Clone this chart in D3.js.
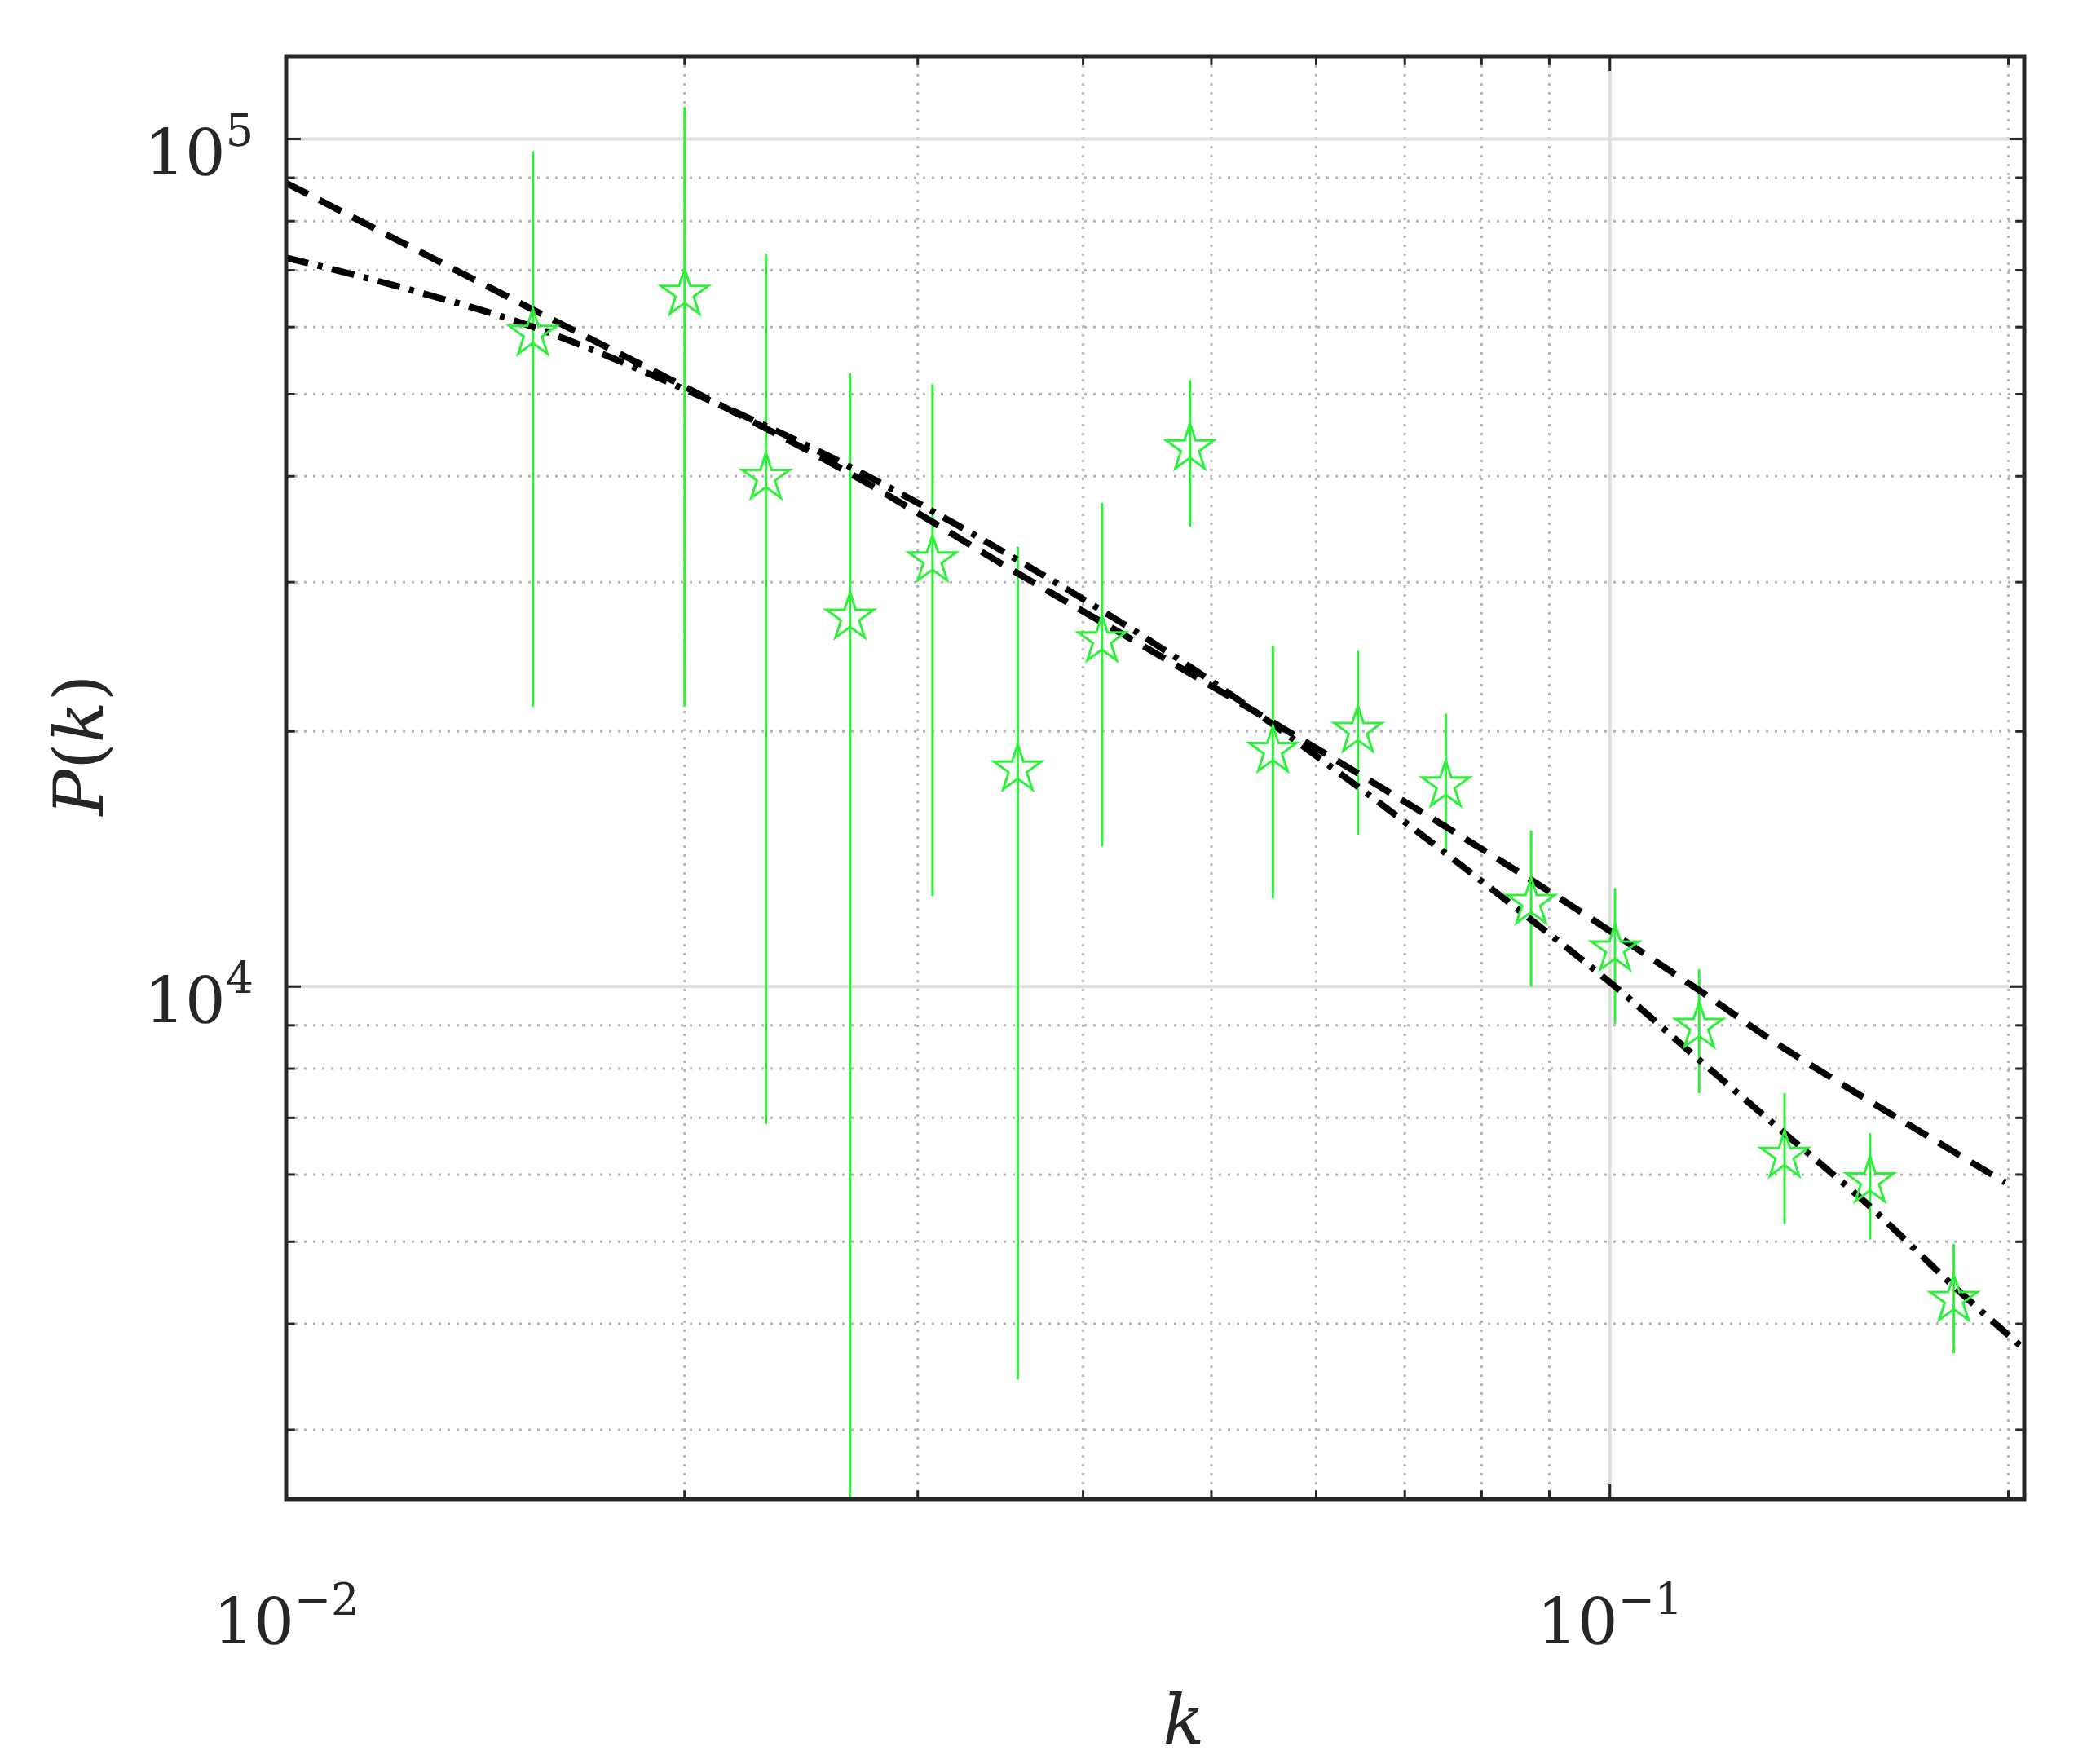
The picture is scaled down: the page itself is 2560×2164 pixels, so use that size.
<!DOCTYPE html>
<html>
<head>
<meta charset="utf-8">
<script src="https://cdn.jsdelivr.net/npm/d3@7"></script>
<style>
  body { margin: 0; background: white; }
  text { font-family: "DejaVu Serif", "Liberation Serif", serif; fill: #262626; }
</style>
</head>
<body>
<script>
var W = 2560, H = 2164;
var margin = {left: 351, top: 69, right: 77, bottom: 325};
var plotW = W - margin.left - margin.right;
var plotH = H - margin.top - margin.bottom;

// measured points
var kData = [0.01536, 0.0200, 0.02304, 0.02667, 0.03078, 0.0357, 0.04133, 0.04817, 0.05564,
             0.06451, 0.07516, 0.0872, 0.1009, 0.1168, 0.1355, 0.1572, 0.1819];
var pData = [58940, 65700, 39860, 27260, 31850, 18050, 25630, 43170, 18980,
             20040, 17280, 12560, 11070, 8970, 6316, 5895, 4271];
var pHigh = [96800, 109100, 73260, 52890, 51360, 33040, 37230, 51920, 25260,
             24900, 21000, 15280, 13070, 10480, 7485, 6714, 4971];
var pLow = [21390, 21390, 6887, 1500, 12790, 3437, 14630, 34880, 12700,
            15110, 14370, 10000, 9040, 7485, 5250, 5027, 3694];

// model curves
var kDash = [0.01, 0.01536, 0.0200, 0.02667, 0.0357, 0.04817, 0.06451, 0.0872, 0.1168, 0.1355, 0.1989];
var pDash = [88740, 62900, 51010, 40300, 30730, 23420, 17850, 13360, 9900, 8450, 5874];
var kDashDot = [0.01, 0.01218, 0.01536, 0.0200, 0.02667, 0.0357, 0.04817, 0.06451, 0.0872, 0.1009,
                0.1168, 0.1355, 0.1572, 0.1819, 0.2056];
var pDashDot = [72450, 66910, 60030, 50650, 41030, 31850, 23840, 17210, 11990, 10000,
                8194, 6714, 5502, 4428, 3735];

var xTicks = [0.01, 0.1];
var xTickExp = ["\u22122", "\u22121"];
var yTicks = [1e4, 1e5];
var yTickExp = ["4", "5"];

var xMinor = [0.02, 0.03, 0.04, 0.05, 0.06, 0.07, 0.08, 0.09, 0.2];
var yMinor = [3000, 4000, 5000, 6000, 7000, 8000, 9000, 20000, 30000, 40000, 50000, 60000, 70000, 80000, 90000];

var svg = d3.select("body").append("svg").attr("width", W).attr("height", H);
var g = svg.append("g").attr("transform", "translate(" + margin.left + "," + margin.top + ")");

var x = d3.scaleLog().domain([0.01, 0.2056]).range([0, plotW]);
var y = d3.scaleLog().domain([2485, 125200]).range([plotH, 0]);

// grid
g.selectAll(".xminor").data(xMinor.filter(d => d < 0.2056)).enter().append("line")
  .attr("x1", d => x(d)).attr("x2", d => x(d)).attr("y1", 0).attr("y2", plotH)
  .attr("stroke", "#b5b5b5").attr("stroke-width", 3).attr("stroke-dasharray", "3,8");
g.selectAll(".yminor").data(yMinor).enter().append("line")
  .attr("y1", d => y(d)).attr("y2", d => y(d)).attr("x1", 0).attr("x2", plotW)
  .attr("stroke", "#b5b5b5").attr("stroke-width", 3).attr("stroke-dasharray", "3,8");
g.selectAll(".xmajor").data(xTicks).enter().append("line")
  .attr("x1", d => x(d)).attr("x2", d => x(d)).attr("y1", 0).attr("y2", plotH)
  .attr("stroke", "#dedede").attr("stroke-width", 4);
g.selectAll(".ymajor").data(yTicks).enter().append("line")
  .attr("y1", d => y(d)).attr("y2", d => y(d)).attr("x1", 0).attr("x2", plotW)
  .attr("stroke", "#dedede").attr("stroke-width", 4);

// clip
svg.append("clipPath").attr("id", "clip").append("rect").attr("width", plotW).attr("height", plotH);
var pg = g.append("g").attr("clip-path", "url(#clip)");

var green = "#2ef03a";

// error bars
pg.selectAll(".err").data(kData).enter().append("line")
  .attr("x1", d => x(d)).attr("x2", d => x(d))
  .attr("y1", (d, i) => y(pHigh[i])).attr("y2", (d, i) => y(pLow[i]))
  .attr("stroke", green).attr("stroke-width", 3);

// curves
var line = d3.line().x(d => x(d[0])).y(d => y(d[1])).curve(d3.curveCatmullRom);
pg.append("path").attr("d", line(d3.zip(kDash, pDash)))
  .attr("fill", "none").attr("stroke", "#000").attr("stroke-width", 8).attr("stroke-dasharray", "30,16");
pg.append("path").attr("d", line(d3.zip(kDashDot, pDashDot)))
  .attr("fill", "none").attr("stroke", "#000").attr("stroke-width", 8).attr("stroke-dasharray", "28,12,6,12");

// stars
var star = d3.symbol().type(d3.symbolStar).size(1050);
pg.selectAll(".star").data(kData).enter().append("path")
  .attr("d", star)
  .attr("transform", (d, i) => "translate(" + x(d) + "," + y(pData[i]) + ")")
  .attr("fill", "none").attr("stroke", green).attr("stroke-width", 3);

// ticks inward, all sides
var tickLen = 18;
var allX = xTicks.concat(xMinor.filter(d => d < 0.2056));
allX.forEach(function(d) {
  var len = xTicks.indexOf(d) >= 0 ? tickLen : tickLen * 0.6;
  g.append("line").attr("x1", x(d)).attr("x2", x(d)).attr("y1", plotH).attr("y2", plotH - len).attr("stroke", "#262626").attr("stroke-width", 3);
  g.append("line").attr("x1", x(d)).attr("x2", x(d)).attr("y1", 0).attr("y2", len).attr("stroke", "#262626").attr("stroke-width", 3);
});
yTicks.concat(yMinor).forEach(function(d) {
  var len = yTicks.indexOf(d) >= 0 ? tickLen : tickLen * 0.6;
  g.append("line").attr("y1", y(d)).attr("y2", y(d)).attr("x1", 0).attr("x2", len).attr("stroke", "#262626").attr("stroke-width", 3);
  g.append("line").attr("y1", y(d)).attr("y2", y(d)).attr("x1", plotW).attr("x2", plotW - len).attr("stroke", "#262626").attr("stroke-width", 3);
});

// frame
g.append("rect").attr("width", plotW).attr("height", plotH)
  .attr("fill", "none").attr("stroke", "#262626").attr("stroke-width", 5);

// tick labels
xTicks.forEach(function(d, i) {
  var t = g.append("text").attr("x", x(d)).attr("y", plotH + 178)
    .attr("text-anchor", "middle").attr("font-size", 78);
  t.append("tspan").text("10");
  t.append("tspan").attr("dy", -36).attr("font-size", 54).text(xTickExp[i]);
});
yTicks.forEach(function(d, i) {
  var t = g.append("text").attr("x", -40).attr("y", y(d) + 45)
    .attr("text-anchor", "end").attr("font-size", 78);
  t.append("tspan").text("10");
  t.append("tspan").attr("dy", -36).attr("font-size", 54).text(yTickExp[i]);
});

// axis labels
g.append("text").attr("x", plotW / 2 + 35).attr("y", plotH + 300)
  .attr("text-anchor", "middle").attr("font-size", 84).attr("font-style", "italic").text("k");
var yl = g.append("text").attr("transform", "translate(-225," + (plotH / 2 - 40) + ") rotate(-90)")
  .attr("text-anchor", "middle").attr("font-size", 84);
yl.append("tspan").attr("font-style", "italic").text("P");
yl.append("tspan").text("(");
yl.append("tspan").attr("font-style", "italic").text("k");
yl.append("tspan").text(")");
</script>
</body>
</html>
